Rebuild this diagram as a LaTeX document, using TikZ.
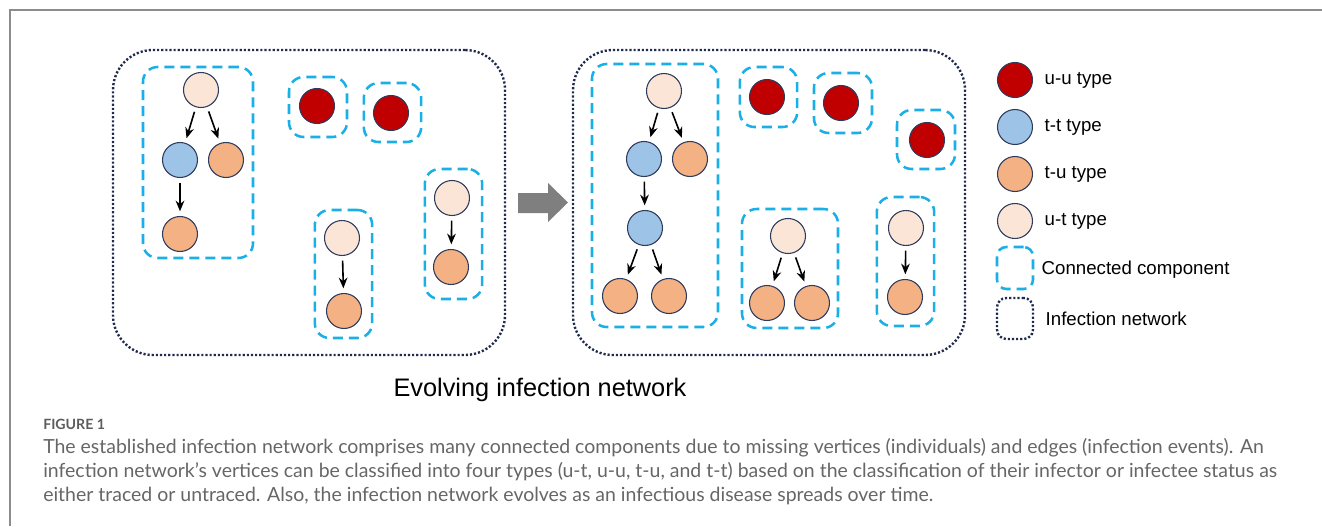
\documentclass[tikz,border=0pt]{standalone}
\usepackage{fontspec}
\setmainfont{Liberation Sans}
\newfontfamily\capfont{Lato}
\usetikzlibrary{positioning, arrows.meta}
\definecolor{uucol}{HTML}{C00000}
\definecolor{ttcol}{HTML}{9DC3E6}
\definecolor{tucol}{HTML}{F4B183}
\definecolor{utcol}{HTML}{FBE5D6}
\definecolor{rimcol}{HTML}{2F3B5C}
\definecolor{compcol}{HTML}{1AAFE6}
\definecolor{netcol}{HTML}{1F2A4D}
\definecolor{framecol}{HTML}{8C8C8C}
\definecolor{capcol}{HTML}{666666}
\definecolor{evolcol}{HTML}{7F7F7F}

\begin{document}
\begin{tikzpicture}[x=0.75pt, y=-0.75pt,
        vtx/.style={circle, draw=rimcol, line width=0.8pt, minimum size=26.25pt, inner sep=0pt},
        uu/.style={vtx, fill=uucol},
        tt/.style={vtx, fill=ttcol},
        tu/.style={vtx, fill=tucol},
        ut/.style={vtx, fill=utcol},
        comp/.style={rectangle, draw=compcol, line width=1.9pt, dash pattern=on 7.5pt off 4.5pt, rounded corners=11pt, inner sep=0pt},
        net/.style={rectangle, draw=netcol, line width=1.8pt, dash pattern=on 1.6pt off 1.5pt, rounded corners=30pt, inner sep=0pt},
        infect/.style={-{Stealth[length=8pt, width=6.5pt]}, line width=1.2pt, shorten >=3.5pt, shorten <=3.5pt},
        legtext/.style={anchor=west, font=\fontsize{14}{16}\selectfont},
        capline/.style={anchor=base west, inner sep=0pt, text=capcol, font=\capfont\fontsize{14.6}{17}\selectfont}
    ]
        \useasboundingbox (0,0) rectangle (1322,526);
        % Frame
        \draw[framecol, line width=1.5pt] (1322,10) -- (10,10) -- (10,526);

        % Left network
        \node[net, minimum width=294pt, minimum height=228.75pt] (netL) at (309,202.5) {};
        \node[comp, minimum width=82.5pt, minimum height=143.25pt] (cA) at (198,162.5) {};
        \node[comp, minimum width=43.5pt, minimum height=45pt] (cB) at (318,107) {};
        \node[comp, minimum width=43pt, minimum height=44.25pt] (cC) at (392.5,112.5) {};
        \node[comp, minimum width=43pt, minimum height=96pt] (cD) at (343.5,274) {};
        \node[comp, minimum width=43pt, minimum height=97.5pt] (cE) at (453.5,234) {};

        \node[ut] (a1) at (201,90) {};
        \node[tt] (a2) at (180,160) {};
        \node[tu] (a3) at (226,160) {};
        \node[tu] (a4) at (180,234) {};
        \node[uu] (b1) at (317,106) {};
        \node[uu] (c1) at (391,113) {};
        \node[ut] (d1) at (342,238) {};
        \node[tu] (d2) at (344,311) {};
        \node[ut] (e1) at (452,198) {};
        \node[tu] (e2) at (451,267) {};

        \draw[infect] (a1) -- (a2);
        \draw[infect] (a1) -- (a3);
        \draw[infect] (a2) -- (a4);
        \draw[infect] (d1) -- (d2);
        \draw[infect] (e1) -- (e2);

        % Evolution arrow
        \fill[evolcol] (518,193) -- (548,193) -- (548,183) -- (568,202.5) -- (548,222) -- (548,213) -- (518,213) -- cycle;

        % Right network
        \node[net, minimum width=294pt, minimum height=228.75pt] (netR) at (769,202.5) {};
        \node[comp, minimum width=94.5pt, minimum height=197.25pt] (rA) at (655,195.5) {};
        \node[comp, minimum width=43pt, minimum height=45pt] (rB) at (768.5,97) {};
        \node[comp, minimum width=43.5pt, minimum height=45pt] (rC) at (843,103) {};
        \node[comp, minimum width=43.5pt, minimum height=44.25pt] (rF) at (926,139.5) {};
        \node[comp, minimum width=72pt, minimum height=89.25pt] (rD) at (790,268.5) {};
        \node[comp, minimum width=43pt, minimum height=96.75pt] (rE) at (905.5,261.5) {};

        \node[ut] (A1) at (664,91) {};
        \node[tt] (A2) at (644,159) {};
        \node[tu] (A3) at (690,159) {};
        \node[tt] (A4) at (645,228) {};
        \node[tu] (A5) at (620,296) {};
        \node[tu] (A6) at (669,296) {};
        \node[uu] (B1) at (767,97) {};
        \node[uu] (C1) at (841,103) {};
        \node[uu] (F1) at (927,140) {};
        \node[ut] (D1) at (788,236) {};
        \node[tu] (D2) at (767,303) {};
        \node[tu] (D3) at (812,303) {};
        \node[ut] (E1) at (906,228) {};
        \node[tu] (E2) at (905,297) {};

        \draw[infect] (A1) -- (A2);
        \draw[infect] (A1) -- (A3);
        \draw[infect] (A2) -- (A4);
        \draw[infect] (A4) -- (A5);
        \draw[infect] (A4) -- (A6);
        \draw[infect] (D1) -- (D2);
        \draw[infect] (D1) -- (D3);
        \draw[infect] (E1) -- (E2);

        % Legend
        \node[uu] (lgUU) at (1015,80) {};
        \node[tt] (lgTT) at (1015,127) {};
        \node[tu] (lgTU) at (1015,174) {};
        \node[ut] (lgUT) at (1015,221) {};
        \node[comp, rounded corners=7pt, minimum width=27pt, minimum height=31.5pt] (lgComp) at (1015,268) {};
        \node[net, rounded corners=7pt, minimum width=27pt, minimum height=30.75pt] (lgNet) at (1015,318.5) {};
        \node[legtext] (txtUU) at (1040,80) {u-u type};
        \node[legtext] (txtTT) at (1040,127) {t-t type};
        \node[legtext] (txtTU) at (1040,174) {t-u type};
        \node[legtext] (txtUT) at (1040,221) {u-t type};
        \node[legtext] (txtComp) at (1037,270) {Connected component};
        \node[legtext] (txtNet) at (1041,319) {Infection network};

        % Title and caption
        \node[anchor=base, font=\fontsize{19}{23}\selectfont] (title) at (540,396) {Evolving infection network};
        \node[anchor=base west, inner sep=0pt, text=capcol!90!black, font=\capfont\bfseries\fontsize{10.6}{12}\selectfont] (fig) at (43,429) {FIGURE 1};
        \node[capline] (cap1) at (43,453) {The established infection network comprises many connected components due to missing vertices (individuals) and edges (infection events). An};
        \node[capline] (cap2) at (43,477) {infection network’s vertices can be classified into four types (u-t, u-u, t-u, and t-t) based on the classification of their infector or infectee status as};
        \node[capline] (cap3) at (43,501) {either traced or untraced. Also, the infection network evolves as an infectious disease spreads over time.};
\end{tikzpicture}
\end{document}
